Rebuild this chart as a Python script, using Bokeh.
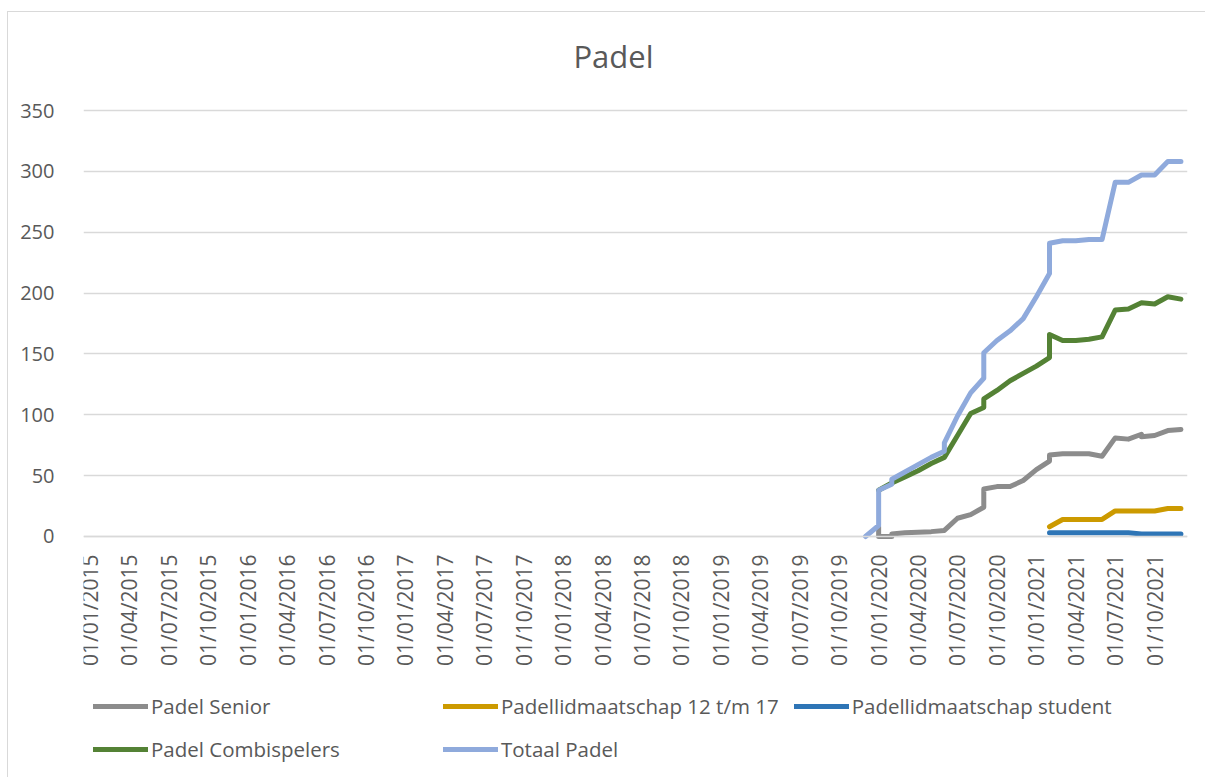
from bokeh.plotting import figure
from bokeh.models import Range1d, FixedTicker, Legend, LegendItem, Label
from bokeh.embed import file_html
from bokeh.resources import INLINE

# ---------------- data ----------------
tick_labels = ["01/01/2015", "01/04/2015", "01/07/2015", "01/10/2015",
               "01/01/2016", "01/04/2016", "01/07/2016", "01/10/2016",
               "01/01/2017", "01/04/2017", "01/07/2017", "01/10/2017",
               "01/01/2018", "01/04/2018", "01/07/2018", "01/10/2018",
               "01/01/2019", "01/04/2019", "01/07/2019", "01/10/2019",
               "01/01/2020", "01/04/2020", "01/07/2020", "01/10/2020",
               "01/01/2021", "01/04/2021", "01/07/2021", "01/10/2021"]

senior_months = ["2020-01", "2020-01", "2020-02", "2020-02", "2020-03", "2020-04",
                 "2020-05", "2020-06", "2020-07", "2020-08", "2020-09", "2020-09",
                 "2020-10", "2020-11", "2020-12", "2021-01", "2021-02", "2021-02",
                 "2021-03", "2021-04", "2021-05", "2021-06", "2021-07", "2021-08",
                 "2021-09", "2021-09", "2021-10", "2021-11", "2021-12"]
senior_values = [8, 0, 0, 2, 3, 3.5, 4, 5, 15, 18, 24, 39, 41, 41, 46, 55, 62, 67,
                 68, 68, 68, 66, 81, 80, 84, 82, 83, 87, 88]

youth_months = ["2021-02", "2021-03", "2021-04", "2021-05", "2021-06", "2021-07",
                "2021-08", "2021-09", "2021-10", "2021-11", "2021-12"]
youth_values = [8, 14, 14, 14, 14, 21, 21, 21, 21, 23, 23]

student_months = ["2021-02", "2021-03", "2021-04", "2021-05", "2021-06", "2021-07",
                  "2021-08", "2021-09", "2021-10", "2021-11", "2021-12"]
student_values = [3, 3, 3, 3, 3, 3, 3, 2, 2, 2, 2]

combi_months = ["2020-01", "2020-02", "2020-03", "2020-04", "2020-05", "2020-06",
                "2020-07", "2020-08", "2020-09", "2020-09", "2020-10", "2020-11",
                "2020-12", "2021-01", "2021-02", "2021-02", "2021-03", "2021-04",
                "2021-05", "2021-06", "2021-07", "2021-08", "2021-09", "2021-10",
                "2021-11", "2021-12"]
combi_values = [38, 44, 49, 54, 60, 65, 83, 101, 106, 113, 120, 128, 134, 140, 147,
                166, 161, 161, 162, 164, 186, 187, 192, 191, 197, 195]

total_months = ["2019-12", "2020-01", "2020-01", "2020-02", "2020-02", "2020-03",
                "2020-04", "2020-05", "2020-06", "2020-06", "2020-07", "2020-08",
                "2020-09", "2020-09", "2020-10", "2020-11", "2020-12", "2021-01",
                "2021-02", "2021-02", "2021-03", "2021-04", "2021-05", "2021-06",
                "2021-07", "2021-08", "2021-09", "2021-10", "2021-11", "2021-12"]
total_values = [0, 9, 38, 43, 47, 53, 59, 65, 70, 77, 99, 118, 130, 151, 161, 169,
                179, 197, 216, 241, 243, 243, 244, 244, 291, 291, 297, 297, 308, 308]

series_names = ["Padel Senior", "Padellidmaatschap 12 t/m 17",
                "Padellidmaatschap student", "Padel Combispelers", "Totaal Padel"]
series_colors = ["#8C8C8C", "#CC9A00", "#2E75B6", "#548235", "#8FAADC"]
chart_title = "Padel"

FONT = "Open Sans"
TXT = "#595959"
GRID = "#D9D9D9"


def month_index(s):
    y, m = s.split("-")
    return (int(y) - 2015) * 12 + int(m) - 1


# The frame fills the whole canvas height: the 0..350 value band sits inside
# it, the x axis is pinned at y = 0, and the title / legend live in the
# empty space above and below that band.
p = figure(width=1198, height=766, output_backend="svg", toolbar_location=None,
           x_range=Range1d(-0.5, 83.5), y_range=Range1d(-198.83, 430.52),
           min_border_left=75, min_border_right=19, min_border_top=0,
           min_border_bottom=0)
p.margin = (11, 0, 0, 7)
p.styles = {"border-top": "1px solid #D9D9D9", "border-left": "1px solid #D9D9D9"}
p.outline_line_color = None
p.background_fill_color = "white"
p.border_fill_color = "white"

# title
p.add_layout(Label(x=604, y=42, x_units="canvas", y_units="canvas",
                   text=chart_title, text_font=FONT, text_font_size="31px",
                   text_color=TXT, text_align="center", text_baseline="middle"))

# axes
p.xaxis.fixed_location = 0
p.xaxis.ticker = FixedTicker(ticks=[3 * i for i in range(len(tick_labels))])
p.xaxis.major_label_overrides = {3 * i: lab for i, lab in enumerate(tick_labels)}
p.xaxis.major_label_orientation = 3.14159265 / 2
p.xaxis.major_label_text_font = FONT
p.xaxis.major_label_text_font_size = "21px"
p.xaxis.major_label_text_color = TXT
p.xaxis.major_label_standoff = 12
p.xaxis.major_tick_line_color = None
p.xaxis.minor_tick_line_color = None
p.xaxis.axis_line_color = GRID
p.xaxis.axis_line_width = 1.5

p.yaxis.ticker = FixedTicker(ticks=list(range(0, 351, 50)))
p.yaxis.major_label_text_font = FONT
p.yaxis.major_label_text_font_size = "20px"
p.yaxis.major_label_text_color = TXT
p.yaxis.major_label_standoff = 23
p.yaxis.major_tick_line_color = None
p.yaxis.minor_tick_line_color = None
p.yaxis.axis_line_color = None

p.xgrid.grid_line_color = None
p.ygrid.grid_line_color = GRID
p.ygrid.grid_line_width = 1.5

# lines
all_months = [senior_months, youth_months, student_months, combi_months, total_months]
all_values = [senior_values, youth_values, student_values, combi_values, total_values]
renderers = []
for months, vals, col in zip(all_months, all_values, series_colors):
    r = p.line([month_index(m) for m in months], vals, line_color=col,
               line_width=5, line_join="round", line_cap="round")
    renderers.append(r)

items = [LegendItem(label=n, renderers=[r]) for n, r in zip(series_names, renderers)]
legend = Legend(items=items, orientation="horizontal", ncols=3,
                location=(10, 15), label_text_font=FONT,
                label_text_font_size="20.5px", label_text_color=TXT,
                glyph_width=55, glyph_height=20, label_standoff=3,
                label_width=277, label_height=20, spacing=15, padding=0,
                margin=0, border_line_color=None, background_fill_alpha=0)
p.add_layout(legend, "center")

open("out.html", "w").write(file_html(p, INLINE))
